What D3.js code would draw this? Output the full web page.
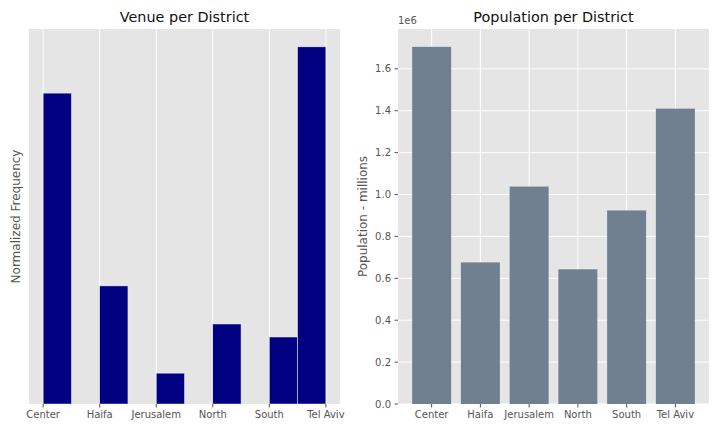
<!DOCTYPE html>
<html>
<head>
<meta charset="utf-8">
<script src="https://cdn.jsdelivr.net/npm/d3@7"></script>
<style>
  body { margin: 0; background: #fff; }
  text { font-family: "DejaVu Sans", sans-serif; }
</style>
</head>
<body>
<script>
// Districts, shared by both panels
var districts = ["Center", "Haifa", "Jerusalem", "North", "South", "Tel Aviv"];
// Histogram density of venues (bin width 0.5)
var venueFreq = [0.645, 0.245, 0.064, 0.166, 0.139, 0.741];
// Population in millions (axis shown with 1e6 offset)
var population = [1.705, 0.676, 1.038, 0.643, 0.924, 1.410];
var popTicks = [0.0, 0.2, 0.4, 0.6, 0.8, 1.0, 1.2, 1.4, 1.6];

var W = 720, H = 432;
var svg = d3.select("body").append("svg")
    .attr("width", W)
    .attr("height", H);

var axTop = 29, axBottom = 404;
var bg = "#E5E5E5", textCol = "#555555";

// ---- Left panel: histogram ----
var L = {left: 29, right: 340};
var g1 = svg.append("g");

g1.append("rect")
    .attr("x", L.left).attr("y", axTop)
    .attr("width", L.right - L.left).attr("height", axBottom - axTop)
    .attr("fill", bg);

var x1 = d3.scaleLinear().domain([-0.25, 5.25]).range([L.left, L.right]);
var y1 = d3.scaleLinear().domain([0, d3.max(venueFreq) * 1.05]).range([axBottom, axTop]);

// vertical grid
g1.selectAll(".grid").data(districts).enter().append("line")
    .attr("x1", function(d, i) { return x1(i); })
    .attr("x2", function(d, i) { return x1(i); })
    .attr("y1", axTop).attr("y2", axBottom)
    .attr("stroke", "#fff").attr("stroke-width", 1);

// bars: 10 bins between 0 and 5, last bin is closed
g1.selectAll(".bar").data(venueFreq).enter().append("rect")
    .attr("x", function(d, i) { return x1(Math.min(i, 4.5)); })
    .attr("width", x1(0.5) - x1(0))
    .attr("y", function(d) { return y1(d); })
    .attr("height", function(d) { return axBottom - y1(d); })
    .attr("fill", "#000080")
    .attr("stroke", "#EEEEEE").attr("stroke-width", 0.5);

// x ticks
g1.selectAll(".tick").data(districts).enter().append("line")
    .attr("x1", function(d, i) { return x1(i); })
    .attr("x2", function(d, i) { return x1(i); })
    .attr("y1", axBottom).attr("y2", axBottom + 3.5)
    .attr("stroke", textCol);
g1.selectAll(".tl").data(districts).enter().append("text")
    .attr("x", function(d, i) { return x1(i); })
    .attr("y", axBottom + 14)
    .attr("text-anchor", "middle")
    .attr("font-size", "10px")
    .attr("fill", textCol)
    .text(function(d) { return d; });

g1.append("text")
    .attr("x", (L.left + L.right) / 2).attr("y", 22)
    .attr("text-anchor", "middle")
    .attr("font-size", "14.4px")
    .attr("fill", "#111")
    .text("Venue per District");

g1.append("text")
    .attr("transform", "translate(20," + ((axTop + axBottom) / 2) + ") rotate(-90)")
    .attr("text-anchor", "middle")
    .attr("font-size", "12px")
    .attr("fill", textCol)
    .text("Normalized Frequency");

// ---- Right panel: bar chart ----
var R = {left: 398, right: 709};
var g2 = svg.append("g");

g2.append("rect")
    .attr("x", R.left).attr("y", axTop)
    .attr("width", R.right - R.left).attr("height", axBottom - axTop)
    .attr("fill", bg);

var x2 = d3.scaleLinear().domain([-0.69, 5.69]).range([R.left, R.right]);
var y2 = d3.scaleLinear().domain([0, d3.max(population) * 1.05]).range([axBottom, axTop]);

g2.selectAll(".hgrid").data(popTicks).enter().append("line")
    .attr("x1", R.left).attr("x2", R.right)
    .attr("y1", function(d) { return y2(d); })
    .attr("y2", function(d) { return y2(d); })
    .attr("stroke", "#fff");
g2.selectAll(".vgrid").data(districts).enter().append("line")
    .attr("x1", function(d, i) { return x2(i); })
    .attr("x2", function(d, i) { return x2(i); })
    .attr("y1", axTop).attr("y2", axBottom)
    .attr("stroke", "#fff");

g2.selectAll(".bar").data(population).enter().append("rect")
    .attr("x", function(d, i) { return x2(i - 0.4); })
    .attr("width", x2(0.8) - x2(0))
    .attr("y", function(d) { return y2(d); })
    .attr("height", function(d) { return axBottom - y2(d); })
    .attr("fill", "#708090");

// x ticks
g2.selectAll(".tick").data(districts).enter().append("line")
    .attr("x1", function(d, i) { return x2(i); })
    .attr("x2", function(d, i) { return x2(i); })
    .attr("y1", axBottom).attr("y2", axBottom + 3.5)
    .attr("stroke", textCol);
g2.selectAll(".tl").data(districts).enter().append("text")
    .attr("x", function(d, i) { return x2(i); })
    .attr("y", axBottom + 14)
    .attr("text-anchor", "middle")
    .attr("font-size", "10px")
    .attr("fill", textCol)
    .text(function(d) { return d; });

// y ticks
g2.selectAll(".ytick").data(popTicks).enter().append("line")
    .attr("x1", R.left - 3.5).attr("x2", R.left)
    .attr("y1", function(d) { return y2(d); })
    .attr("y2", function(d) { return y2(d); })
    .attr("stroke", textCol);
g2.selectAll(".ytl").data(popTicks).enter().append("text")
    .attr("x", R.left - 7)
    .attr("y", function(d) { return y2(d); })
    .attr("dy", "0.35em")
    .attr("text-anchor", "end")
    .attr("font-size", "10px")
    .attr("fill", textCol)
    .text(function(d) { return d3.format(".1f")(d); });

g2.append("text")
    .attr("x", R.left).attr("y", 24)
    .attr("font-size", "10px")
    .attr("fill", textCol)
    .text("1e6");

g2.append("text")
    .attr("x", (R.left + R.right) / 2).attr("y", 22)
    .attr("text-anchor", "middle")
    .attr("font-size", "14.4px")
    .attr("fill", "#111")
    .text("Population per District");

g2.append("text")
    .attr("transform", "translate(367," + ((axTop + axBottom) / 2) + ") rotate(-90)")
    .attr("text-anchor", "middle")
    .attr("font-size", "12px")
    .attr("fill", textCol)
    .text("Population - millions");
</script>
</body>
</html>
